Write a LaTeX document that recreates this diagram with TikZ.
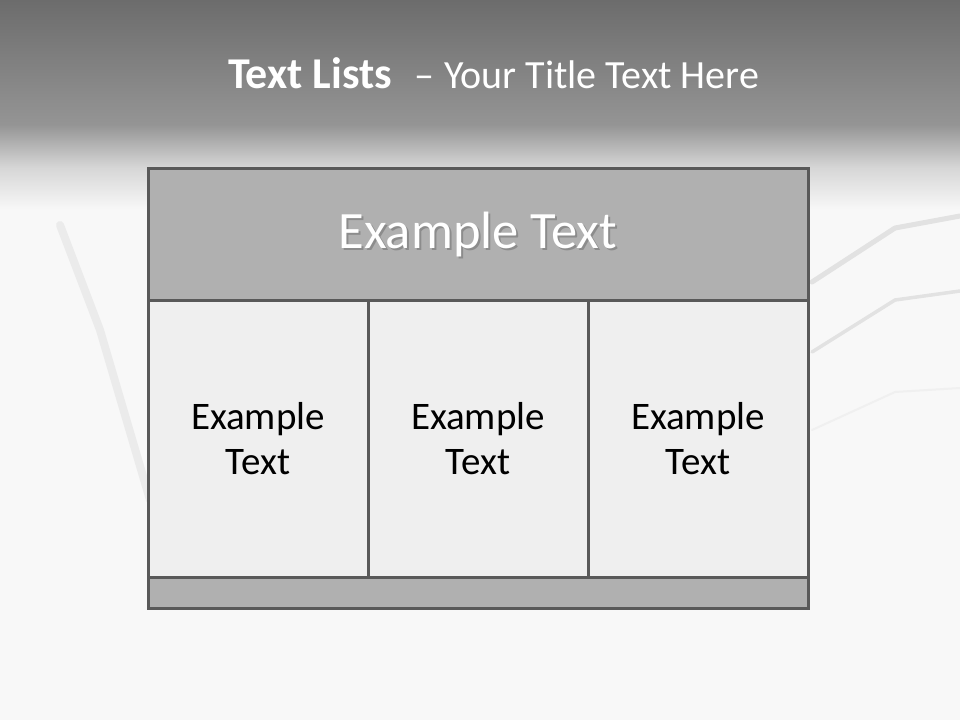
\documentclass[tikz,border=0pt]{standalone}
\usepackage{fontspec}
\setmainfont{Carlito}
\usepackage{tikz}
\usetikzlibrary{positioning}

\definecolor{frame}{HTML}{595959}
\definecolor{barfill}{HTML}{B0B0B0}
\definecolor{cellfill}{HTML}{EFEFEF}
\definecolor{bandtop}{HTML}{6C6C6C}
\definecolor{bandbot}{HTML}{959595}
\definecolor{paper}{HTML}{F8F8F8}
\definecolor{ghost}{HTML}{E2E2E2}

\begin{document}
\begin{tikzpicture}[
    x=1pt, y=-1pt,
    every node/.style={inner sep=0pt, outer sep=0pt},
    titletext/.style={text=white, font=\fontsize{40}{46}\selectfont},
    headbox/.style={draw=frame, fill=barfill, line width=3pt, minimum width=660pt, minimum height=132pt},
    headtext/.style={text=white, font=\fontsize{52.5}{60}\selectfont},
    headshadow/.style={text=black!45, font=\fontsize{52.5}{60}\selectfont},
    cellbox/.style={draw=frame, fill=cellfill, line width=3pt, minimum width=220pt, minimum height=277pt, text width=200pt, align=center, font=\fontsize{39}{45}\selectfont},
    footbox/.style={draw=frame, fill=barfill, line width=3pt, minimum width=660pt, minimum height=31pt},
    faint/.style={draw=ghost, line cap=round, line join=round}
]
% background
\useasboundingbox (0,0) rectangle (960,720);
\fill[paper] (0,0) rectangle (960,720);
\shade[top color=bandtop, bottom color=bandbot] (0,0) rectangle (960,126);
\shade[top color=bandbot, bottom color=paper, middle color=black!16] (0,125) rectangle (960,210);

% faint pen and glasses
\draw[faint, line width=8pt, draw=ghost!70] (60,225) -- (100,330) -- (150,500);
\draw[faint, line width=5pt] (812,282) -- (895,228) -- (960,216);
\draw[faint, line width=3.5pt] (812,352) -- (895,300) -- (960,291);
\draw[faint, line width=2pt, draw=ghost!50] (812,430) -- (895,392) -- (960,388);

% title
\node[titletext, anchor=base west] (title) at (228,88)
    {{\fontsize{44}{46}\selectfont\bfseries Text Lists}\hspace{22pt}--\hspace{10pt}Your Title Text Here};

% table
\node[headbox] (header) at (478,234) {};
\node[headshadow] at (480,236) {Example Text};
\node[headtext] (headlabel) at (478,234) {Example Text};

\node[cellbox] (cellA) at (258,438.5) {Example\\Text};
\node[cellbox] (cellB) at (478,438.5) {Example\\Text};
\node[cellbox] (cellC) at (698,438.5) {Example\\Text};

\node[footbox] (footer) at (478,592.5) {};
\end{tikzpicture}
\end{document}
